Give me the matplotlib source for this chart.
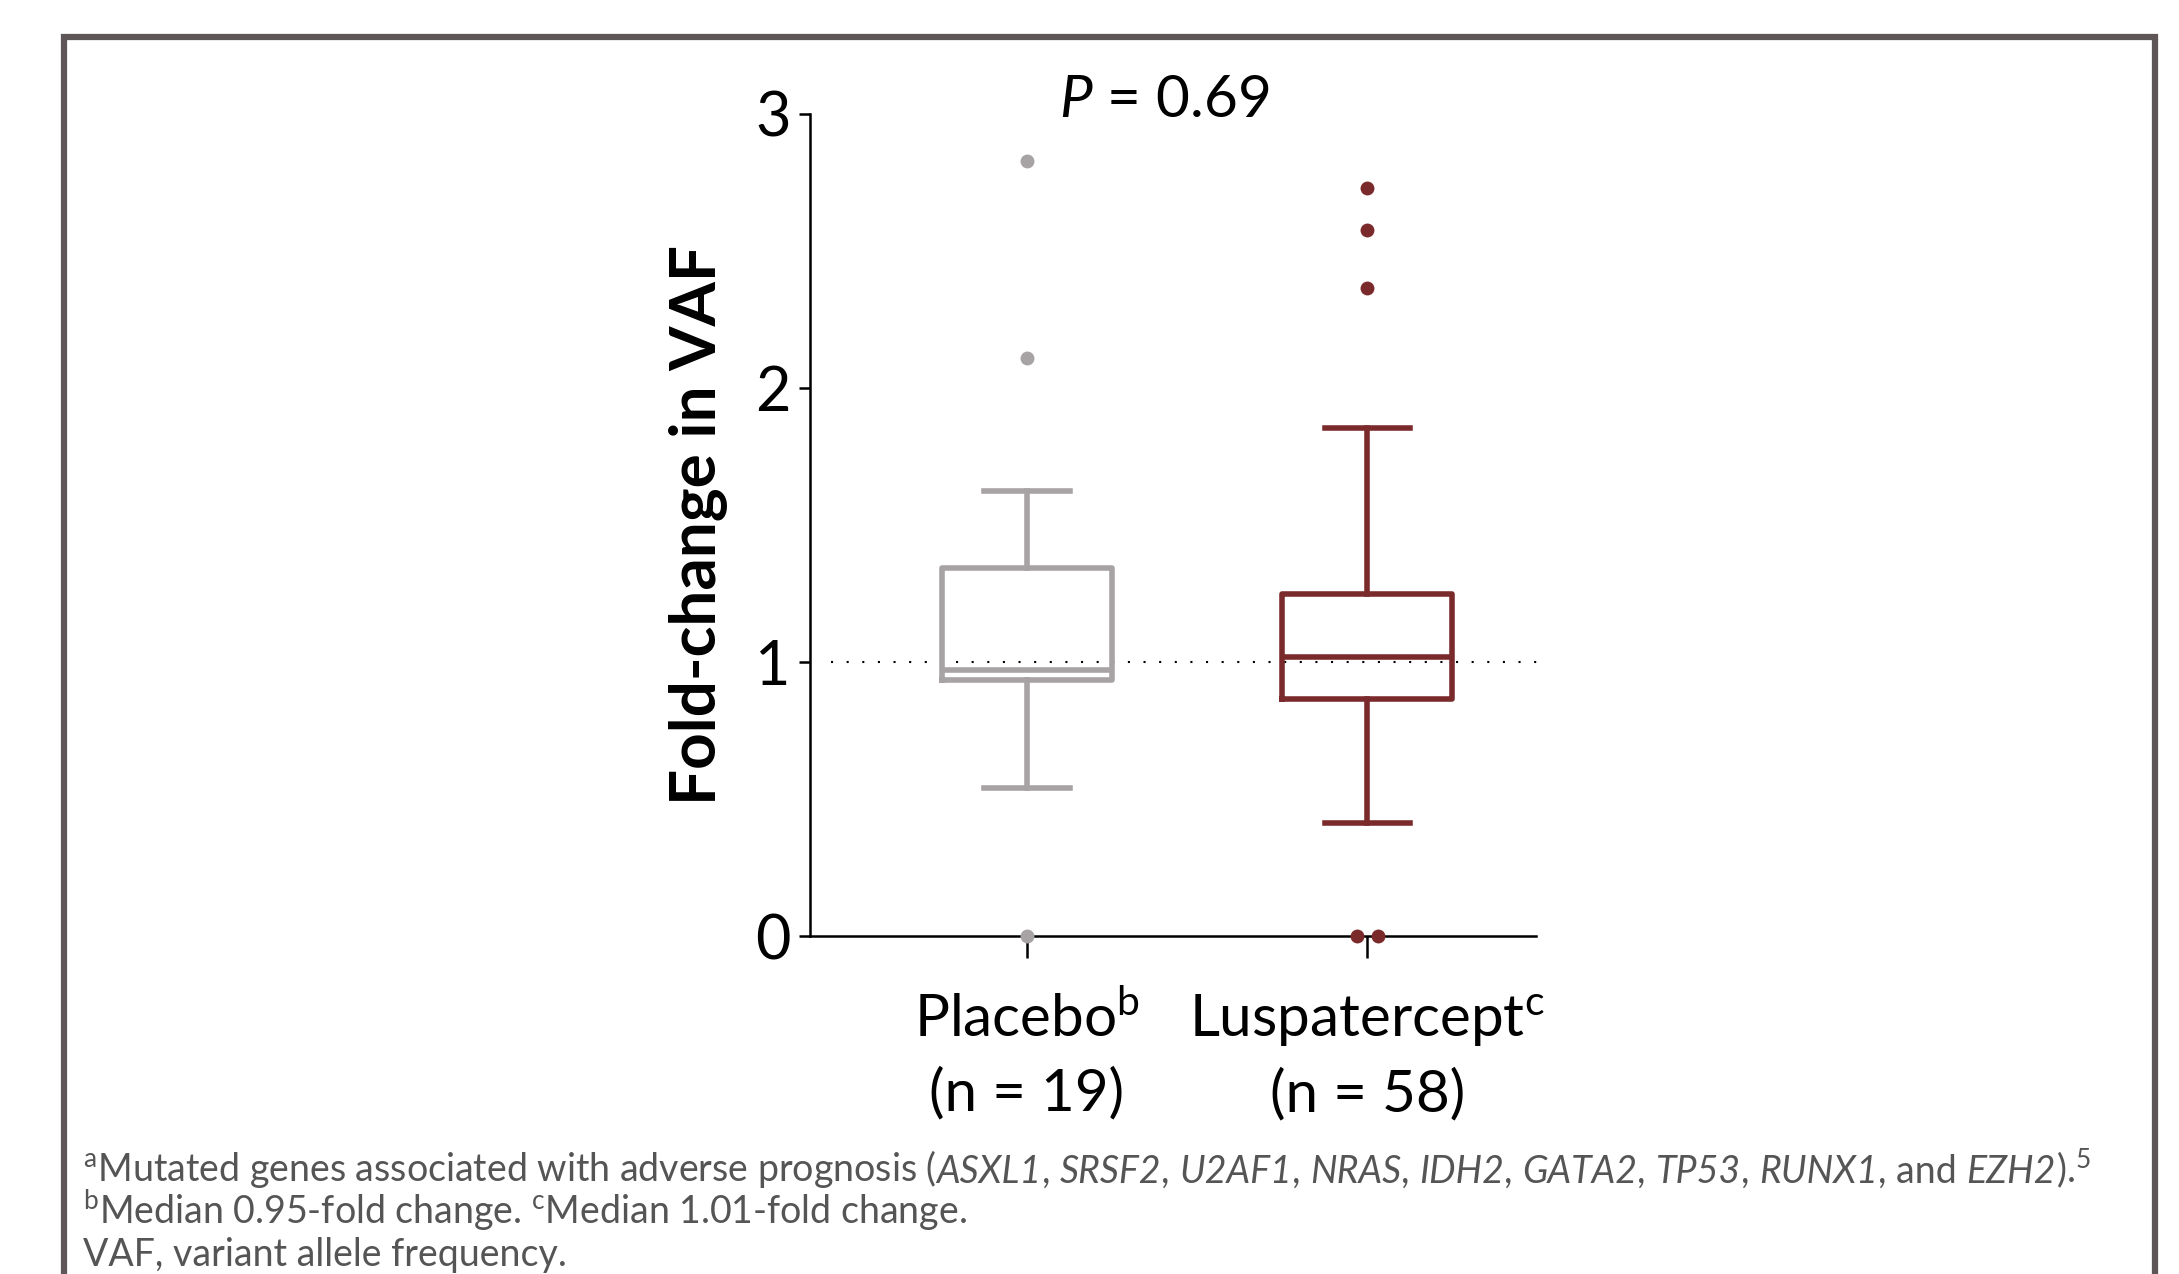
import matplotlib
matplotlib.use("Agg")
import matplotlib.pyplot as plt
from matplotlib.patches import Rectangle

plt.rcParams['font.family'] = ['Lato', 'DejaVu Sans']
plt.rcParams['mathtext.fontset'] = 'custom'
plt.rcParams['mathtext.rm'] = 'Lato'
plt.rcParams['mathtext.it'] = 'Lato:italic'
plt.rcParams['mathtext.bf'] = 'Lato:bold'

# Box plot summary values
groups = ['Placebo$^{\\rm b}$\n(n = 19)', 'Luspatercept$^{\\rm c}$\n(n = 58)']
positions = [1, 2]
q1 = [0.935, 0.865]
medians = [0.97, 1.02]
q3 = [1.345, 1.25]
whisker_low = [0.54, 0.415]
whisker_high = [1.625, 1.855]
fliers = [[2.83, 2.11, 0.0], [2.73, 2.575, 2.365, 0.0, 0.0]]
flier_offsets = [[0, 0, 0], [0, 0, 0, -0.03, 0.03]]
colors = ['#a7a2a3', '#7b2a2b']

yticks = [0, 1, 2, 3]

# footnote pieces: (text, style)
genes = ['ASXL1', 'SRSF2', 'U2AF1', 'NRAS', 'IDH2', 'GATA2', 'TP53', 'RUNX1']
note1 = [('$^{\\rm a}$Mutated genes associated with adverse prognosis (', 'normal')]
for g in genes:
    note1 += [(g, 'italic'), (', ', 'normal')]
note1 += [('and ', 'normal'), ('EZH2', 'italic'), (').$^{\\rm 5}$', 'normal')]
note2 = [('$^{\\rm b}$Median 0.95-fold change. $^{\\rm c}$Median 1.01-fold change.', 'normal')]
note3 = [('VAF, variant allele frequency.', 'normal')]
footnotes = [note1, note2, note3]

fig = plt.figure(figsize=(21.79, 12.74), dpi=100)
ax = fig.add_axes([0.3718, 0.265, 0.3329, 0.6456])

stats = []
for i in range(len(positions)):
    stats.append({'med': medians[i], 'q1': q1[i], 'q3': q3[i],
                  'whislo': whisker_low[i], 'whishi': whisker_high[i],
                  'fliers': []})

for i, s in enumerate(stats):
    c = colors[i]
    ax.bxp([s], positions=[positions[i]], widths=0.5, showfliers=False,
           boxprops=dict(color=c, linewidth=4),
           medianprops=dict(color=c, linewidth=4),
           whiskerprops=dict(color=c, linewidth=4),
           capprops=dict(color=c, linewidth=4),
           capwidths=0.25, manage_ticks=False, zorder=3)
    xs = [positions[i] + o for o in flier_offsets[i]]
    ax.plot(xs, fliers[i], 'o', color=c, markersize=10, markeredgewidth=0,
            clip_on=False, zorder=4)

# reference line at 1
ax.plot([0.424, 2.514], [1, 1], color='black', linewidth=1.5,
        dashes=(1, 6.5), clip_on=False, zorder=2)

ax.set_xlim(0.363, 2.494)
ax.set_ylim(0, 3)
ax.set_yticks(yticks)
ax.set_yticklabels([str(t) for t in yticks])
ax.set_xticks(positions)
ax.set_xticklabels(groups, linespacing=1.45)

for side in ['top', 'right']:
    ax.spines[side].set_visible(False)
for side in ['left', 'bottom']:
    ax.spines[side].set_linewidth(1.8)
ax.tick_params(axis='y', length=8, width=1.8, pad=6, labelsize=44)
ax.tick_params(axis='x', length=16, width=1.8, pad=24, labelsize=42)

ax.set_ylabel('Fold-change in VAF', fontsize=46, fontweight='bold', labelpad=20)

ax.text(1.404, 3.05, '$\\mathit{P}$ = 0.69', fontsize=42, ha='center',
        va='center', clip_on=False)

# outer frame
frame = Rectangle((0.0294, -0.2), 0.9596, 1.171, transform=fig.transFigure,
                  fill=False, edgecolor='#5e5556', linewidth=4.5)
fig.add_artist(frame)

note_y = [0.066, 0.032, 0.001]
for pieces, y in zip(footnotes, note_y):
    t = fig.text(0.038, y, pieces[0][0], fontsize=27, color='#555555',
                 fontstyle=pieces[0][1], ha='left', va='bottom')
    for txt, st in pieces[1:]:
        t = ax.annotate(txt, xy=(1, 0), xycoords=t, fontsize=27,
                        color='#555555', fontstyle=st, ha='left', va='bottom',
                        annotation_clip=False)

fig.savefig('out.png', dpi=100)
